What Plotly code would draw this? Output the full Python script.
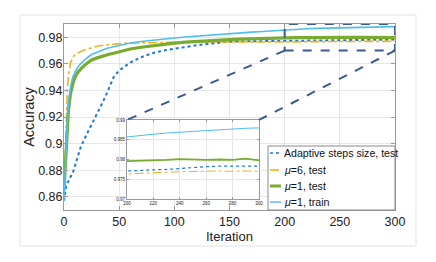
import plotly.graph_objects as go

iters = [0, 1, 2, 3, 4, 5, 6, 8, 10, 12, 15, 20, 25, 30, 35, 40, 45, 50, 55, 60,
         70, 80, 90, 100, 110, 120, 130, 140, 150, 160, 170, 180, 190, 200,
         210, 220, 230, 240, 250, 260, 270, 280, 290, 300]

adaptive_test = [0.857, 0.864, 0.868, 0.870, 0.872, 0.873, 0.875, 0.878, 0.883, 0.8885,
                 0.897, 0.906, 0.914, 0.923, 0.931, 0.940, 0.950, 0.955, 0.958, 0.961,
                 0.965, 0.968, 0.970, 0.9715, 0.9727, 0.974, 0.975, 0.976, 0.9767, 0.9769,
                 0.9770, 0.9771, 0.9771, 0.9771, 0.9772, 0.9773, 0.9775, 0.9777, 0.9780,
                 0.9782, 0.9783, 0.9783, 0.9782, 0.9783]

mu6_test = [0.862, 0.890, 0.920, 0.940, 0.951, 0.957, 0.961, 0.965, 0.967, 0.968,
            0.969, 0.971, 0.972, 0.9733, 0.974, 0.9745, 0.975, 0.9752, 0.9755, 0.9757,
            0.9759, 0.9761, 0.9762, 0.9763, 0.9764, 0.9765, 0.9765, 0.9766, 0.9766, 0.9765,
            0.9766, 0.9765, 0.9764, 0.9763, 0.9765, 0.9767, 0.9768, 0.9769, 0.9770,
            0.9770, 0.9771, 0.9770, 0.9771, 0.9770]

mu1_test = [0.865, 0.880, 0.900, 0.915, 0.925, 0.932, 0.938, 0.945, 0.950, 0.953,
            0.956, 0.960, 0.963, 0.9645, 0.966, 0.967, 0.968, 0.969, 0.970, 0.9712,
            0.9725, 0.9737, 0.9747, 0.9756, 0.9763, 0.9769, 0.9774, 0.9778, 0.9782, 0.9786,
            0.9789, 0.9791, 0.9794, 0.9796, 0.9797, 0.9797, 0.9799, 0.9801, 0.9800,
            0.9799, 0.9800, 0.9799, 0.9802, 0.9798]

mu1_train = [0.857, 0.880, 0.900, 0.918, 0.930, 0.938, 0.943, 0.950, 0.954, 0.957,
             0.960, 0.964, 0.967, 0.969, 0.9705, 0.972, 0.973, 0.974, 0.975, 0.9757,
             0.9768, 0.9778, 0.9787, 0.9795, 0.9802, 0.9809, 0.9816, 0.9822, 0.9828, 0.9834,
             0.9839, 0.9844, 0.9850, 0.9857, 0.9861, 0.9864, 0.9867, 0.9869, 0.9872,
             0.9874, 0.9876, 0.9877, 0.9879, 0.9880]

names = ["Adaptive steps size, test", "<i>\u03bc</i>=6, test", "<i>\u03bc</i>=1, test",
         "<i>\u03bc</i>=1, train"]
series = [adaptive_test, mu6_test, mu1_test, mu1_train]
colors = ["#1f78d1", "#EDB120", "#77AC30", "#4DBEEE"]
dashes = ["dot", "dashdot", "solid", "solid"]
widths_main = [2, 1.6, 3.2, 1.6]
widths_inset = [1.2, 1.0, 1.8, 1.0]
widths_key = [1.6, 1.6, 3.0, 1.4]

FONT = "Liberation Sans, Arial, Helvetica, sans-serif"

fig = go.Figure()
for n, s, c, d, w in zip(names, series, colors, dashes, widths_main):
    fig.add_trace(go.Scatter(x=iters, y=s, name=n, mode="lines", showlegend=False,
                             line=dict(color=c, dash=d, width=w),
                             xaxis="x", yaxis="y"))
for n, s, c, d, w in zip(names, series, colors, dashes, widths_inset):
    fig.add_trace(go.Scatter(x=iters, y=s, name=n, mode="lines", showlegend=False,
                             line=dict(color=c, dash=d, width=w),
                             xaxis="x2", yaxis="y2"))

xr = [0, 300]
yr = [0.85, 0.99]
zoom_x = [200, 300]
zoom_y = [0.97, 0.99]
inset_dx = [0.19, 0.589]
inset_dy = [0.059, 0.484]

W, H = 428, 254
ML, MR, MT, MB = 56, 41, 16, 52
PW, PH = W - ML - MR, H - MT - MB
OFF = 8  # page offset of the figure inside the browser window


def px_x(p):
    return (p - OFF - ML) / PW


def px_y(p):
    return (H - MB - (p - OFF)) / PH


axis_common = dict(showline=True, linecolor="#9a9a9a", linewidth=1, mirror="ticks",
                   ticks="inside", tickcolor="#9a9a9a", showgrid=True,
                   gridcolor="#e6e6e6", zeroline=False)

fig.update_layout(
    width=W, height=H,
    margin=dict(l=ML, r=MR, t=MT, b=MB),
    paper_bgcolor="white", plot_bgcolor="white",
    font=dict(family=FONT, color="#222"),
    showlegend=False,
    xaxis=dict(range=xr, tickvals=[0, 50, 100, 150, 200, 250, 300],
               ticklen=4, tickfont=dict(size=12.5),
               title=dict(text="Iteration", font=dict(size=13), standoff=3),
               **axis_common),
    yaxis=dict(range=yr, tickvals=[0.86, 0.88, 0.9, 0.92, 0.94, 0.96, 0.98],
               ticklen=4, tickfont=dict(size=12.5), ticklabelstandoff=-2,
               title=dict(text="Accuracy", font=dict(size=14.5), standoff=0),
               **axis_common),
    xaxis2=dict(domain=inset_dx, anchor="y2", range=zoom_x,
                tickvals=[200, 220, 240, 260, 280, 300], ticklen=2,
                tickfont=dict(size=4.5), **axis_common),
    yaxis2=dict(domain=inset_dy, anchor="x2", range=zoom_y,
                tickvals=[0.97, 0.975, 0.98, 0.985, 0.99], ticklen=2,
                tickfont=dict(size=4.5), **axis_common),
)

box_col = "#3b5b8f"
fig.add_shape(type="rect", xref="x", yref="y", x0=zoom_x[0], x1=zoom_x[1],
              y0=zoom_y[0], y1=zoom_y[1], line=dict(color=box_col, width=2, dash="dash"),
              layer="above")


def to_main(px, py):
    return (xr[0] + px * (xr[1] - xr[0]), yr[0] + py * (yr[1] - yr[0]))


tl = to_main(inset_dx[0], inset_dy[1])
tr = to_main(inset_dx[1], inset_dy[1])
fig.add_shape(type="line", xref="x", yref="y", x0=zoom_x[0], y0=zoom_y[0],
              x1=tl[0], y1=tl[1], line=dict(color=box_col, width=2, dash="dash"))
fig.add_shape(type="line", xref="x", yref="y", x0=zoom_x[1], y0=zoom_y[0],
              x1=tr[0], y1=tr[1], line=dict(color=box_col, width=2, dash="dash"))

# outer light frame
fig.add_shape(type="rect", xref="paper", yref="paper", x0=px_x(20), x1=px_x(416),
              y0=px_y(246), y1=px_y(15), line=dict(color="#e2e2e2", width=1),
              layer="below")

# legend key box
fig.add_shape(type="rect", xref="paper", yref="paper", x0=px_x(268), x1=px_x(395),
              y0=px_y(210), y1=px_y(146), line=dict(color="#8a8a8a", width=1),
              fillcolor="white", layer="above")
row_y = [153, 170, 186, 202]
for n, c, d, w, ry in zip(names, colors, dashes, widths_key, row_y):
    fig.add_shape(type="line", xref="paper", yref="paper", x0=px_x(270), x1=px_x(281),
                  y0=px_y(ry), y1=px_y(ry), line=dict(color=c, dash=d, width=w),
                  layer="above")
    fig.add_annotation(xref="paper", yref="paper", x=px_x(281.5), y=px_y(ry),
                       xanchor="left", yanchor="middle", text=n, showarrow=False,
                       font=dict(size=10.6, color="#111"))

fig.write_html("out.html")
